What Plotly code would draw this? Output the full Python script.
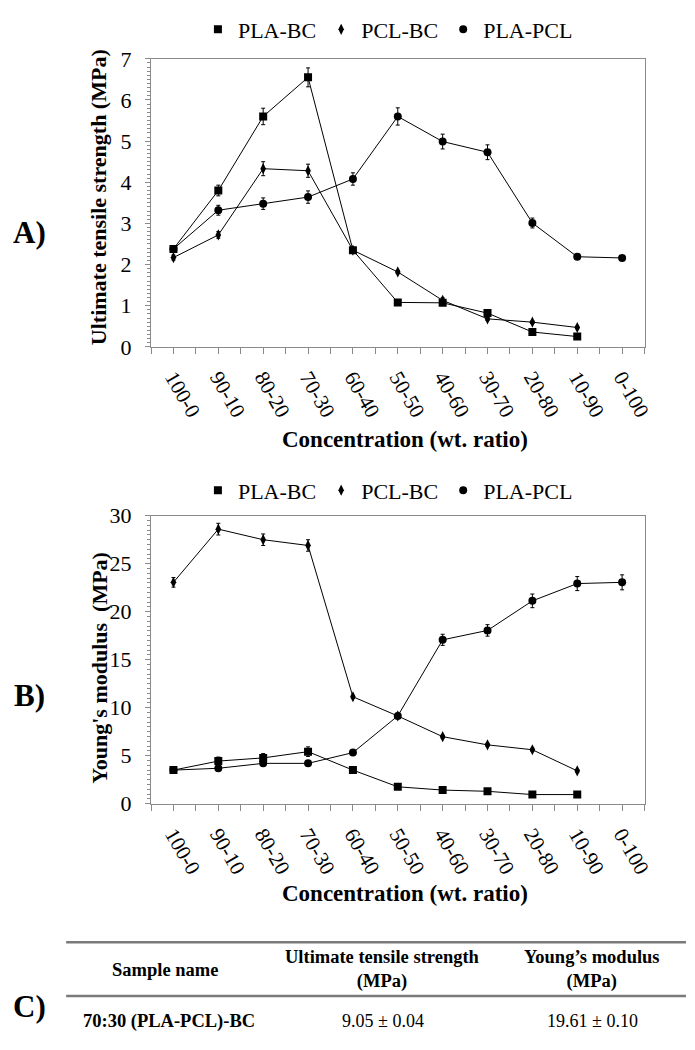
import plotly.graph_objects as go

# ---------------- data ----------------
categories = ["100-0", "90-10", "80-20", "70-30", "60-40", "50-50",
              "40-60", "30-70", "20-80", "10-90", "0-100"]
series_names = ["PLA-BC", "PCL-BC", "PLA-PCL"]

uts_pla_bc = [2.38, 3.80, 5.60, 6.55, 2.35, 1.08, 1.07, 0.82, 0.36, 0.25]
uts_pcl_bc = [2.17, 2.72, 4.33, 4.28, 2.35, 1.82, 1.13, 0.68, 0.60, 0.47]
uts_pla_pcl = [2.38, 3.32, 3.48, 3.64, 4.08, 5.60, 4.99, 4.73, 3.01, 2.19, 2.16]
uts_err_pla_bc = [0.08, 0.13, 0.20, 0.23, 0.05, 0.04, 0.04, 0.05, 0.04, 0.03]
uts_err_pcl_bc = [0.06, 0.08, 0.17, 0.16, 0.05, 0.04, 0.06, 0.04, 0.03, 0.03]
uts_err_pla_pcl = [0.06, 0.12, 0.14, 0.15, 0.15, 0.21, 0.18, 0.18, 0.12, 0.05, 0.05]

ym_pla_bc = [3.50, 4.44, 4.77, 5.42, 3.50, 1.76, 1.42, 1.29, 0.95, 0.95]
ym_pcl_bc = [23.06, 28.60, 27.50, 26.90, 11.14, 9.14, 6.98, 6.13, 5.62, 3.42]
ym_pla_pcl = [3.50, 3.69, 4.20, 4.20, 5.32, 9.14, 17.07, 18.05, 21.13, 22.93, 23.06]
ym_err_pla_bc = [0.20, 0.42, 0.45, 0.50, 0.15, 0.15, 0.10, 0.10, 0.10, 0.10]
ym_err_pcl_bc = [0.50, 0.61, 0.60, 0.60, 0.15, 0.15, 0.15, 0.15, 0.15, 0.15]
ym_err_pla_pcl = [0.15, 0.20, 0.30, 0.30, 0.20, 0.20, 0.58, 0.60, 0.71, 0.73, 0.78]

uts_ticks = [0, 1, 2, 3, 4, 5, 6, 7]
ym_ticks = [0, 5, 10, 15, 20, 25, 30]

table_header = ["Sample name", "Ultimate tensile strength<br>(MPa)", "Young\u2019s modulus<br>(MPa)"]
table_row = ["70:30 (PLA-PCL)-BC", "9.05 \u00b1 0.04", "19.61 \u00b1 0.10"]

panel_labels = ["A)", "B)", "C)"]
x_title = "Concentration (wt. ratio)"
y_titles = ["Ultimate tensile strength (MPa)", "Young's modulus  (MPa)"]

# ---------------- styling helpers ----------------
W, H = 695, 1050
SERIF = "Liberation Serif"
symbols = ["square", "diamond-tall", "circle"]
sizes = [8, 8, 8]

def px(x):
    return x / W

def py(y):
    return 1 - y / H

xidx = list(range(len(categories)))

fig = go.Figure()

def add_series(vals, errs, name, sym, size, xa, ya, legend, err_w):
    xs = xidx[:len(vals)]
    fig.add_trace(go.Scatter(
        x=xs, y=vals, mode="lines", line=dict(color="black", width=1),
        showlegend=False, hoverinfo="skip", xaxis=xa, yaxis=ya))
    fig.add_trace(go.Scatter(
        x=xs, y=vals, mode="markers", name=name,
        marker=dict(symbol=sym, size=size, color="black"),
        error_y=dict(type="data", array=errs, color="black", thickness=1, width=err_w),
        legend=legend, xaxis=xa, yaxis=ya))

add_series(uts_pla_bc, uts_err_pla_bc, series_names[0], symbols[0], sizes[0], "x", "y", "legend", 2)
add_series(uts_pcl_bc, uts_err_pcl_bc, series_names[1], symbols[1], sizes[1], "x", "y", "legend", 2)
add_series(uts_pla_pcl, uts_err_pla_pcl, series_names[2], symbols[2], sizes[2], "x", "y", "legend", 2)

add_series(ym_pla_bc, ym_err_pla_bc, series_names[0], symbols[0], sizes[0], "x2", "y2", "legend2", 2)
add_series(ym_pcl_bc, ym_err_pcl_bc, series_names[1], symbols[1], sizes[1], "x2", "y2", "legend2", 2)
add_series(ym_pla_pcl, ym_err_pla_pcl, series_names[2], symbols[2], sizes[2], "x2", "y2", "legend2", 2)

xdom = [px(153), px(653)]
AXC = "#8a8a8a"

def xaxis_cfg(anchor):
    return dict(
        domain=xdom, anchor=anchor, range=[-0.5, len(categories) - 0.5],
        tickmode="array", tickvals=xidx, ticktext=categories,
        tickangle=60, ticks="outside", ticklen=6, tickcolor=AXC,
        showline=True, linecolor=AXC, linewidth=1, mirror=True,
        showgrid=False, zeroline=False,
        tickfont=dict(family=SERIF, size=21, color="black"),
        ticklabelstandoff=3,
        minor=dict(tickmode="linear", tick0=-0.5, dtick=1, ticks="outside",
                   ticklen=6, tickcolor=AXC, showgrid=False),
    )

def yaxis_cfg(anchor, dom, rng, ticks, minor_dtick):
    return dict(
        domain=dom, anchor=anchor, range=rng,
        tickmode="array", tickvals=ticks,
        ticks="outside", ticklen=5, tickcolor=AXC,
        showline=True, linecolor=AXC, linewidth=1, mirror=True,
        showgrid=False, zeroline=False,
        tickfont=dict(family=SERIF, size=22, color="black"),
        ticklabelstandoff=9,
        minor=dict(tickmode="linear", tick0=0, dtick=minor_dtick, ticks="outside",
                   ticklen=3, tickcolor=AXC, showgrid=False),
    )

legend_common = dict(
    orientation="h", xanchor="center", yanchor="middle",
    font=dict(family=SERIF, size=22, color="black"),
    bgcolor="rgba(0,0,0,0)", itemwidth=30,
)

fig.update_layout(
    width=W, height=H, autosize=False,
    margin=dict(l=0, r=0, t=0, b=0),
    paper_bgcolor="white", plot_bgcolor="white",
    font=dict(family=SERIF, color="black"),
    showlegend=True,
    xaxis=xaxis_cfg("y"),
    yaxis=yaxis_cfg("x", [py(343), py(48)], [0, 7], uts_ticks, 0.1),
    xaxis2=xaxis_cfg("y2"),
    yaxis2=yaxis_cfg("x2", [py(811), py(516)], [0, 30], ym_ticks, 0.5),
    legend=dict(x=px(393), y=py(18), **legend_common),
    legend2=dict(x=px(393), y=py(490), **legend_common),
)

annotations = []
# axis titles
for ytxt, yc in zip(y_titles, [190, 672]):
    annotations.append(dict(text="<b>%s</b>" % ytxt, x=px(100), y=py(yc), xref="paper", yref="paper",
                            textangle=-90, showarrow=False, xanchor="center", yanchor="middle",
                            font=dict(family=SERIF, size=22, color="black")))
for yc in [438, 903]:
    annotations.append(dict(text="<b>%s</b>" % x_title, x=px(410), y=py(yc), xref="paper", yref="paper",
                            showarrow=False, xanchor="center", yanchor="middle",
                            font=dict(family=SERIF, size=23, color="black")))
# panel labels
for lab, yc in zip(panel_labels, [226, 700, 1019]):
    annotations.append(dict(text="<b>%s</b>" % lab, x=px(30), y=py(yc), xref="paper", yref="paper",
                            showarrow=False, xanchor="center", yanchor="middle",
                            font=dict(family=SERIF, size=31, color="black")))
# table
col_x = [167, 388, 600]
for i, (h, v) in enumerate(zip(table_header, table_row)):
    annotations.append(dict(text="<b>%s</b>" % h, x=px(col_x[i]), y=py(981), xref="paper", yref="paper",
                            showarrow=False, xanchor="center", yanchor="middle",
                            font=dict(family=SERIF, size=18.5, color="black")))
    if i == 0:
        annotations.append(dict(text="<b>%s</b>" % v, x=px(82), y=py(1034), xref="paper", yref="paper",
                                showarrow=False, xanchor="left", yanchor="middle",
                                font=dict(family=SERIF, size=18.5, color="black")))
    else:
        annotations.append(dict(text=v, x=px(col_x[i]), y=py(1034), xref="paper", yref="paper",
                                showarrow=False, xanchor="center", yanchor="middle",
                                font=dict(family=SERIF, size=18, color="black")))
fig.update_layout(annotations=annotations)

for yl in [953, 1008]:
    fig.add_shape(type="line", xref="paper", yref="paper",
                  x0=px(67), x1=1.0, y0=py(yl), y1=py(yl),
                  line=dict(color="#7a7a7a", width=2.5))

fig.write_html("out.html", config={"displayModeBar": False},
               post_script="document.body.style.margin='0';document.body.style.overflow='hidden';")
